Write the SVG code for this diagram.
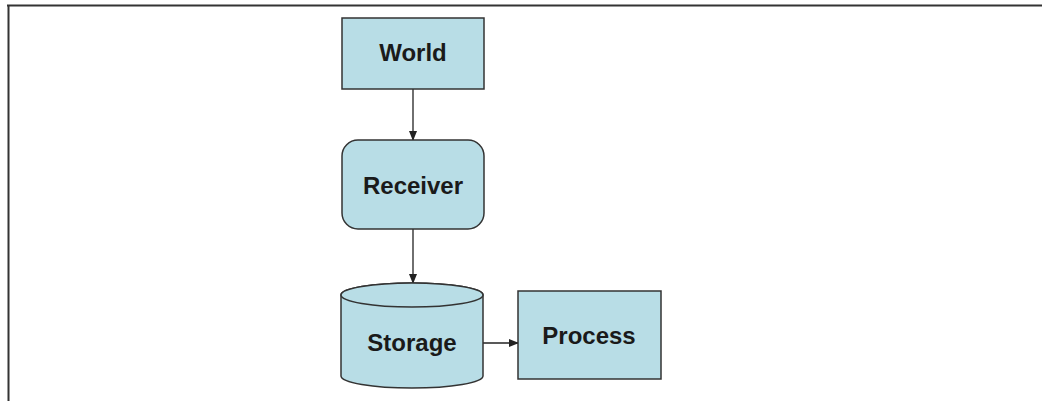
<svg xmlns="http://www.w3.org/2000/svg" width="1042" height="401" viewBox="0 0 1042 401">
<style>
.n{fill:#b8dde6;stroke:#333;stroke-width:1.5}
.t{font-family:"Liberation Sans",Arial,sans-serif;font-weight:bold;font-size:24px;fill:#1a1a1a;text-anchor:middle}
.c{stroke:#222;stroke-width:1.3;fill:none;marker-end:url(#a)}
</style>
<defs><marker id="a" markerWidth="10" markerHeight="8" refX="9" refY="4" orient="auto" markerUnits="userSpaceOnUse"><path d="M0,0 L10,4 L0,8 z" fill="#222"/></marker></defs>
<rect width="1042" height="401" fill="#fff"/>
<path d="M7,5.5 H1042 M8.5,5 V401" stroke="#333" stroke-width="2" fill="none"/>
<g id="connectors">
<line class="c" x1="413" y1="89" x2="413" y2="140"/>
<line class="c" x1="413" y1="229" x2="413" y2="283"/>
<line class="c" x1="483" y1="343" x2="518" y2="343"/>
</g>
<g id="world"><rect class="n" x="342" y="18" width="142" height="71"/><text class="t" x="413" y="61">World</text></g>
<g id="receiver"><rect class="n" x="342" y="140" width="142" height="89" rx="16"/><text class="t" x="413" y="194">Receiver</text></g>
<g id="storage"><path class="n" d="M341,295 V376 A71,12 0 0 0 483,376 V295 A71,12 0 0 0 341,295 Z"/><ellipse class="n" cx="412" cy="295" rx="71" ry="12" fill="#c5e3eb"/><text class="t" x="412" y="351">Storage</text></g>
<g id="process"><rect class="n" x="518" y="291" width="143" height="88"/><text class="t" x="589" y="344">Process</text></g>
</svg>
